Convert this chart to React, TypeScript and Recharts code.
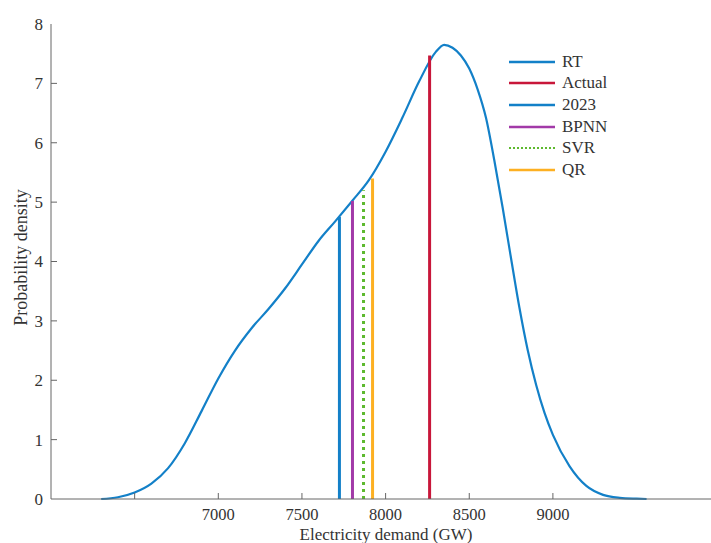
import { ComposedChart, Line, XAxis, YAxis, Label } from 'recharts';

// kernel density of 2023 demand
const demand = [
  6300, 6400, 6500, 6600, 6700, 6800, 6900, 7000, 7100, 7200, 7300, 7400, 7500,
  7600, 7700, 7800, 7900, 8000, 8100, 8200, 8300, 8350, 8400, 8450, 8500, 8550,
  8600, 8650, 8700, 8750, 8800, 8850, 8900, 8950, 9000, 9100, 9200, 9300, 9400,
  9500, 9560,
];
const density = [
  0, 0.03, 0.11, 0.26, 0.52, 0.94, 1.48, 2.03, 2.5, 2.88, 3.2, 3.55, 3.95,
  4.35, 4.68, 5.02, 5.37, 5.85, 6.42, 7.03, 7.53, 7.65, 7.6, 7.47, 7.25, 6.9,
  6.42, 5.7, 4.9, 4.05, 3.22, 2.5, 1.92, 1.45, 1.08, 0.55, 0.22, 0.07, 0.02,
  0.005, 0,
];

// point forecasts drawn as vertical bars up to the curve
const forecastNames = ['RT', 'Actual', 'BPNN', 'SVR', 'QR'];
const forecastValues = [7724, 8263, 7802, 7868, 7922];
const forecastHeights = [4.75, 7.47, 5.02, 5.2, 5.4];
const forecastColors = ['#1380c8', '#c8173a', '#a23aa8', '#5db92e', '#fdb022'];

const legendNames = ['RT', 'Actual', '2023', 'BPNN', 'SVR', 'QR'];
const legendColors = ['#1380c8', '#c8173a', '#1380c8', '#a23aa8', '#5db92e', '#fdb022'];

const xTicks = [6500, 7000, 7500, 8000, 8500, 9000];
const yTicks = [0, 1, 2, 3, 4, 5, 6, 7, 8];

const FONT = '"Liberation Serif", "Times New Roman", serif';
const TEXT = '#333';
const AXIS = '#666';

const curve = demand.map((x, i) => ({ x, y: density[i] }));

const XTick = ({ x, y, payload }: any) => (
  <g>
    <line x1={x} x2={x} y1={y} y2={y - 6} stroke={AXIS} />
    {payload.value !== 6500 && (
      <text x={x} y={y + 21} textAnchor="middle" fill={TEXT} fontSize={16.5} fontFamily={FONT}>
        {payload.value}
      </text>
    )}
  </g>
);

const YTick = ({ x, y, payload }: any) => (
  <g>
    {payload.value !== 0 && payload.value !== 8 && (
      <line x1={x} x2={x + 6} y1={y} y2={y} stroke={AXIS} />
    )}
    <text x={x - 8} y={y} dy="0.35em" textAnchor="end" fill={TEXT} fontSize={17} fontFamily={FONT}>
      {payload.value}
    </text>
  </g>
);

const LegendBox = () => (
  <div
    style={{
      position: 'absolute',
      left: 507,
      top: 51,
      fontFamily: FONT,
      fontSize: 17,
      color: TEXT,
    }}
  >
    {legendNames.map((n, i) => (
      <div key={n} style={{ display: 'flex', alignItems: 'center', height: 21.6 }}>
        <svg width={50} height={6} style={{ marginRight: 5 }}>
          <line
            x1={2}
            x2={48}
            y1={3}
            y2={3}
            stroke={legendColors[i]}
            strokeWidth={n === 'SVR' ? 2 : 2.5}
            strokeDasharray={n === 'SVR' ? '2 2' : undefined}
          />
        </svg>
        <span>{n}</span>
      </div>
    ))}
  </div>
);

export default function App() {
  return (
    <div style={{ position: 'absolute', left: 0, top: 0, width: 711, height: 543, background: '#fff' }}>
      <ComposedChart width={711} height={543} margin={{ top: 24, right: 0, bottom: 0, left: 0 }}>
        <XAxis
          dataKey="x"
          type="number"
          domain={[6000, 9945]}
          allowDataOverflow
          ticks={xTicks}
          tickSize={0}
          tickMargin={0}
          height={44}
          stroke={AXIS}
          tick={<XTick />}
        >
          <Label
            content={({ viewBox }: any) => (
              <text
                x={viewBox.x + viewBox.width / 2 + 5}
                y={viewBox.y + 41}
                textAnchor="middle"
                fill={TEXT}
                fontSize={17}
                fontFamily={FONT}
              >
                Electricity demand (GW)
              </text>
            )}
          />
        </XAxis>
        <XAxis
          xAxisId="top"
          orientation="top"
          dataKey="x"
          type="number"
          domain={[6000, 9945]}
          height={0}
          tick={false}
          tickLine={false}
          stroke={AXIS}
        />
        <YAxis
          type="number"
          domain={[0, 8]}
          ticks={yTicks}
          width={51}
          tickSize={0}
          tickMargin={0}
          stroke={AXIS}
          tick={<YTick />}
        >
          <Label
            content={({ viewBox }: any) => {
              const cx = viewBox.x + 27;
              const cy = viewBox.y + viewBox.height / 2 - 4;
              return (
                <text
                  x={cx}
                  y={cy}
                  transform={`rotate(-90 ${cx} ${cy})`}
                  textAnchor="middle"
                  fill={TEXT}
                  fontSize={18}
                  fontFamily={FONT}
                >
                  Probability density
                </text>
              );
            }}
          />
        </YAxis>
        <Line
          data={curve}
          dataKey="y"
          name="2023"
          type="monotone"
          stroke="#1380c8"
          strokeWidth={2.2}
          dot={false}
          isAnimationActive={false}
        />
        {forecastNames.map((n, i) => (
          <Line
            key={n}
            data={[
              { x: forecastValues[i], y: 0 },
              { x: forecastValues[i], y: forecastHeights[i] },
            ]}
            dataKey="y"
            name={n}
            stroke={forecastColors[i]}
            strokeWidth={3}
            strokeDasharray={n === 'SVR' ? '3 4' : undefined}
            dot={false}
            isAnimationActive={false}
          />
        ))}
      </ComposedChart>
      <LegendBox />
    </div>
  );
}
